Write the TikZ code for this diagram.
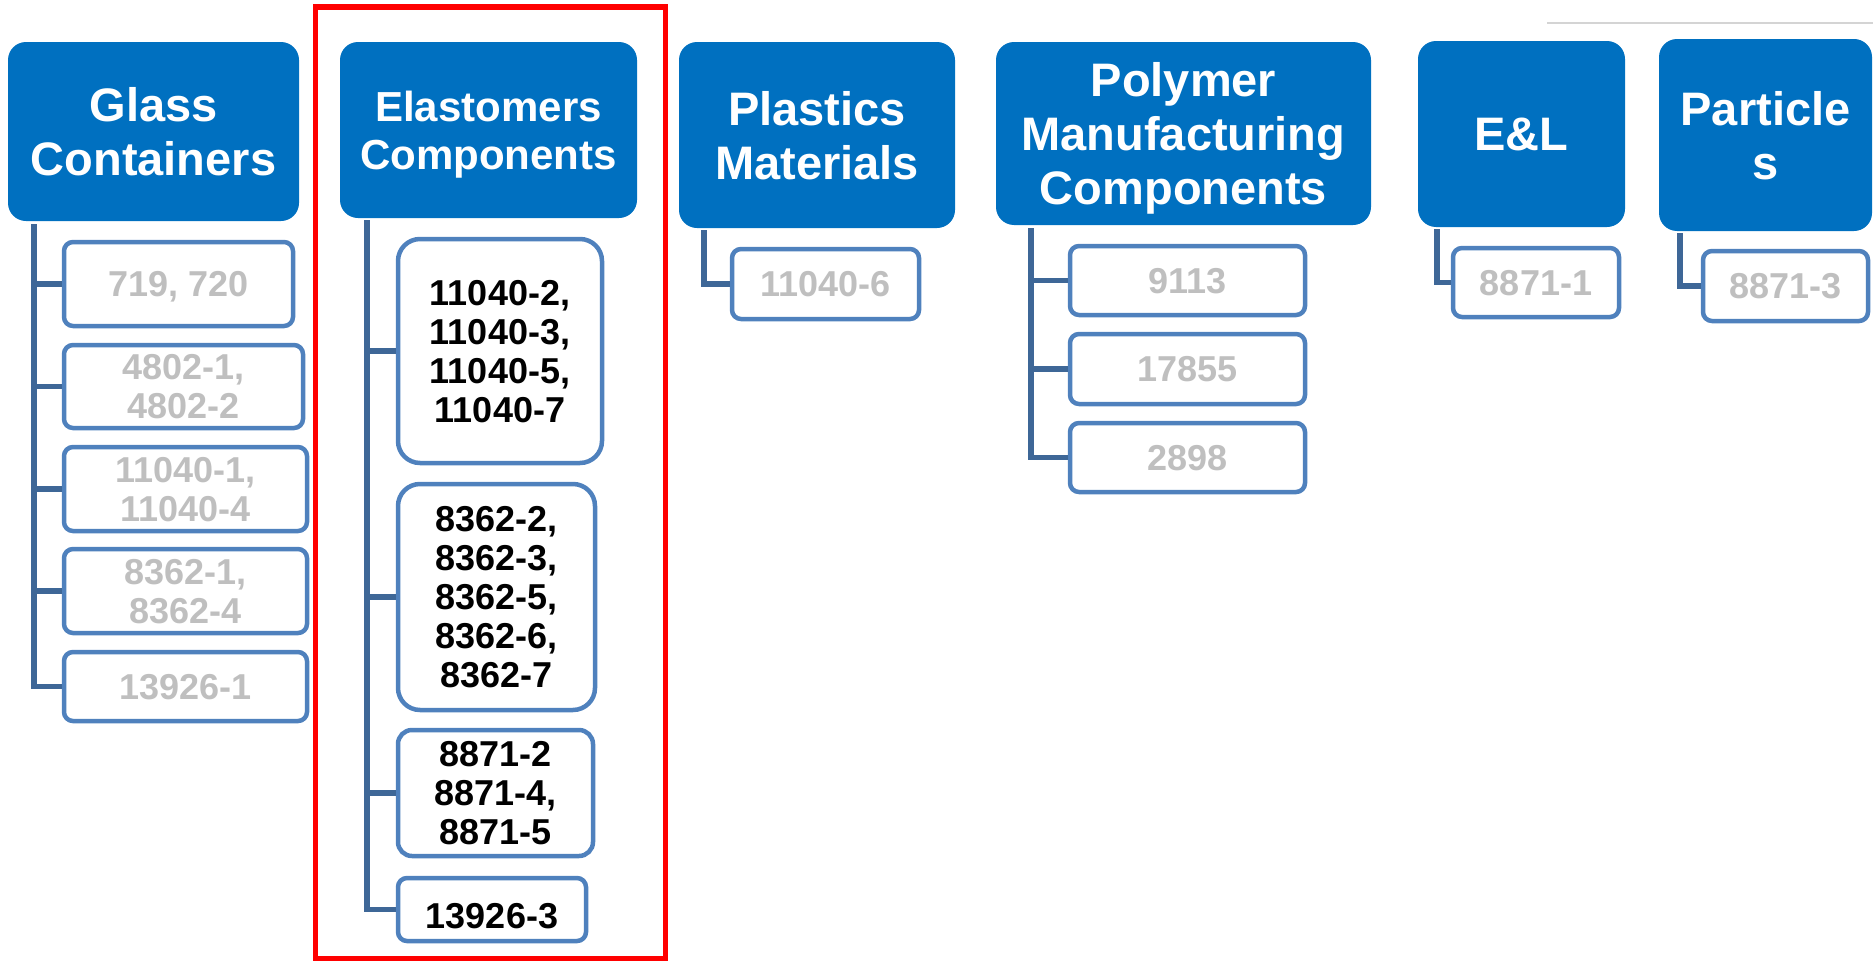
\documentclass[tikz,border=0pt]{standalone}
\usepackage{fontspec}
\setmainfont{Liberation Sans}
\definecolor{hdrblue}{HTML}{0070C0}
\definecolor{boxline}{HTML}{4F81BD}
\definecolor{trunk}{HTML}{3E6797}
\definecolor{dimtext}{HTML}{BFBFBF}
\definecolor{rulegray}{HTML}{D4D4D4}
\begin{document}
\begin{tikzpicture}[x=1pt,y=-1pt,
  hdr/.style={fill=hdrblue, text=white, inner sep=0pt, align=center, text depth=0pt,
              rounded corners=18pt, font=\bfseries\fontsize{47}{54}\selectfont},
  item/.style={draw=boxline, line width=4.5pt, fill=white, inner sep=0pt, align=center,
               text depth=0pt, rounded corners=9pt, font=\bfseries\fontsize{36}{39}\selectfont},
  dim/.style={item, text=dimtext},
  live/.style={item, text=black},
  link/.style={draw=trunk, line width=5.5pt},
  frame/.style={draw=red, line width=5.5pt, inner sep=0pt}
]
\useasboundingbox (0,0) rectangle (1873,961);

% highlight frame and top rule
\node[frame, minimum width=350pt, minimum height=951.5pt] (hl) at (490.5,482.75) {};
\draw[rulegray, line width=1.5pt] (1547,23) -- (1873,23);

% category headers
\node[hdr, minimum width=291pt, minimum height=179pt] (G)  at (153.5,131.5) {Glass\\Containers};
\node[hdr, minimum width=297pt, minimum height=176pt, font=\bfseries\fontsize{42}{48}\selectfont] (E)  at (488.5,130) {Elastomers\\Components};
\node[hdr, minimum width=276pt, minimum height=186pt] (P)  at (817,135) {Plastics\\Materials};
\node[hdr, minimum width=375pt, minimum height=183pt] (PM) at (1183.5,133.5) {Polymer\\Manufacturing\\Components};
\node[hdr, minimum width=207pt, minimum height=186pt] (EL) at (1521.5,134) {E\&L};
\node[hdr, minimum width=213pt, minimum height=192pt] (PA) at (1765.5,135) {Particle\\s};

% glass containers
\node[dim, minimum width=229pt, minimum height=84pt] (g1) at (178.5,284) {719, 720};
\node[dim, minimum width=239pt, minimum height=83pt] (g2) at (183.5,386.5) {4802-1,\\4802-2};
\node[dim, minimum width=243pt, minimum height=84pt] (g3) at (185.5,489) {11040-1,\\11040-4};
\node[dim, minimum width=243pt, minimum height=84pt] (g4) at (185.5,591) {8362-1,\\8362-4};
\node[dim, minimum width=243pt, minimum height=69pt] (g5) at (185.5,686.5) {13926-1};

% elastomers components
\node[live, minimum width=204pt, minimum height=224pt, rounded corners=22pt] (e1) at (500,351) {11040-2,\\11040-3,\\11040-5,\\11040-7};
\node[live, minimum width=197pt, minimum height=226pt, rounded corners=22pt] (e2) at (496.5,597) {8362-2,\\8362-3,\\8362-5,\\8362-6,\\8362-7};
\node[live, minimum width=195pt, minimum height=126pt, rounded corners=14pt] (e3) at (495.5,793) {8871-2\\8871-4,\\8871-5};
\node[live, minimum width=188pt, minimum height=63pt] (e4) at (492,909.5) {\raisebox{-6pt}[\height][\depth]{13926-3}};

% plastics materials
\node[dim, minimum width=187pt, minimum height=70pt] (p1) at (825.5,284) {11040-6};

% polymer manufacturing components
\node[dim, minimum width=235pt, minimum height=69pt] (m1) at (1187.5,280.5) {9113};
\node[dim, minimum width=235pt, minimum height=70pt] (m2) at (1187.5,369) {17855};
\node[dim, minimum width=235pt, minimum height=69pt] (m3) at (1187.5,457.5) {2898};

% extractables and leachables, particles
\node[dim, minimum width=166pt, minimum height=69pt] (l1) at (1536,282.5) {8871-1};
\node[dim, minimum width=165pt, minimum height=70pt] (a1) at (1785.5,286) {8871-3};

% tree connectors
\foreach \c in {g1,g2,g3,g4,g5}
  \draw[link] ([xshift=26pt,yshift=-3pt]G.south west) |- (\c.west);
\foreach \c in {e1,e2,e3,e4}
  \draw[link] ([xshift=27pt,yshift=-2pt]E.south west) |- (\c.west);
\draw[link] ([xshift=25pt,yshift=-2pt]P.south west) |- (p1.west);
\foreach \c in {m1,m2,m3}
  \draw[link] ([xshift=35pt,yshift=-3pt]PM.south west) |- (\c.west);
\draw[link] ([xshift=19pt,yshift=-2pt]EL.south west) |- (l1.west);
\draw[link] ([xshift=21pt,yshift=-2pt]PA.south west) |- (a1.west);
\end{tikzpicture}
\end{document}
